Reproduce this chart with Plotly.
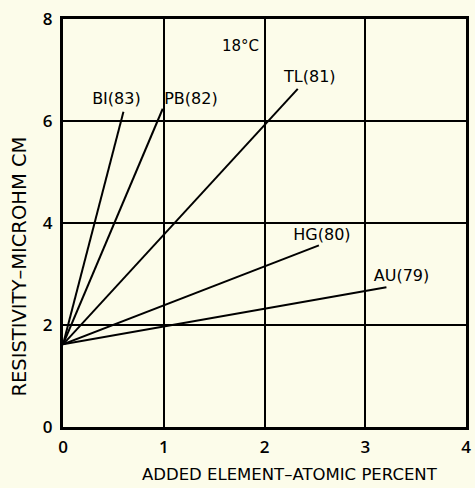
import plotly.graph_objects as go

# Data
elements = ["BI(83)", "PB(82)", "TL(81)", "HG(80)", "AU(79)"]
start_x = 0.0
start_y = 1.62
end_x = [0.60, 0.99, 2.33, 2.54, 3.21]
end_y = [6.18, 6.24, 6.63, 3.56, 2.74]
label_x = [0.53, 1.27, 2.45, 2.57, 3.36]
label_y = [6.42, 6.42, 6.85, 3.74, 2.95]
x_ticks = [0, 1, 2, 3, 4]
y_ticks = [0, 2, 4, 6, 8]

BG = "#fcfcea"
FONT = "DejaVu Sans"
TICKFONT = "Open Sans"

fig = go.Figure()
for i, name in enumerate(elements):
    fig.add_trace(go.Scatter(
        x=[start_x, end_x[i]], y=[start_y, end_y[i]],
        mode="lines", line=dict(color="black", width=2),
        showlegend=False, hoverinfo="skip"))

fig.add_trace(go.Scatter(
    x=label_x, y=label_y, mode="text", text=elements,
    textfont=dict(family=FONT, size=16, color="black"),
    showlegend=False, hoverinfo="skip"))

fig.add_annotation(x=1.76, y=7.47, text="18°C", showarrow=False,
                   font=dict(family=FONT, size=15, color="black"))

# axis titles as paper annotations
fig.add_annotation(xref="paper", yref="paper", x=(293 - 63) / 408, y=(427 - 474) / 408,
                   text="ADDED ELEMENT–ATOMIC PERCENT", showarrow=False,
                   xanchor="center", yanchor="middle",
                   font=dict(family=FONT, size=16.5, color="black"))
fig.add_annotation(xref="paper", yref="paper", x=(18 - 63) / 408, y=(427 - 267) / 408,
                   text="RESISTIVITY–MICROHM CM", showarrow=False, textangle=-90,
                   xanchor="center", yanchor="middle",
                   font=dict(family=FONT, size=19.5, color="black"))

fig.update_layout(
    width=475, height=488,
    margin=dict(l=63, r=4, t=19, b=61),
    paper_bgcolor=BG, plot_bgcolor=BG,
    font=dict(family=FONT, color="black"),
    xaxis=dict(range=[0, 4], tickvals=x_ticks, ticktext=[str(v) for v in x_ticks],
               showgrid=True, gridcolor="black", gridwidth=1.5,
               zeroline=False, showline=True, linecolor="black", linewidth=3,
               mirror=True, ticks="", ticklabelstandoff=3,
               tickfont=dict(family=TICKFONT, size=17, weight=600)),
    yaxis=dict(range=[0, 8], tickvals=y_ticks, ticktext=[str(v) for v in y_ticks],
               showgrid=True, gridcolor="black", gridwidth=1.5,
               zeroline=False, showline=True, linecolor="black", linewidth=3,
               mirror=True, ticks="", ticklabelstandoff=4,
               tickfont=dict(family=TICKFONT, size=17, weight=600)),
)

fig.write_html("out.html")
